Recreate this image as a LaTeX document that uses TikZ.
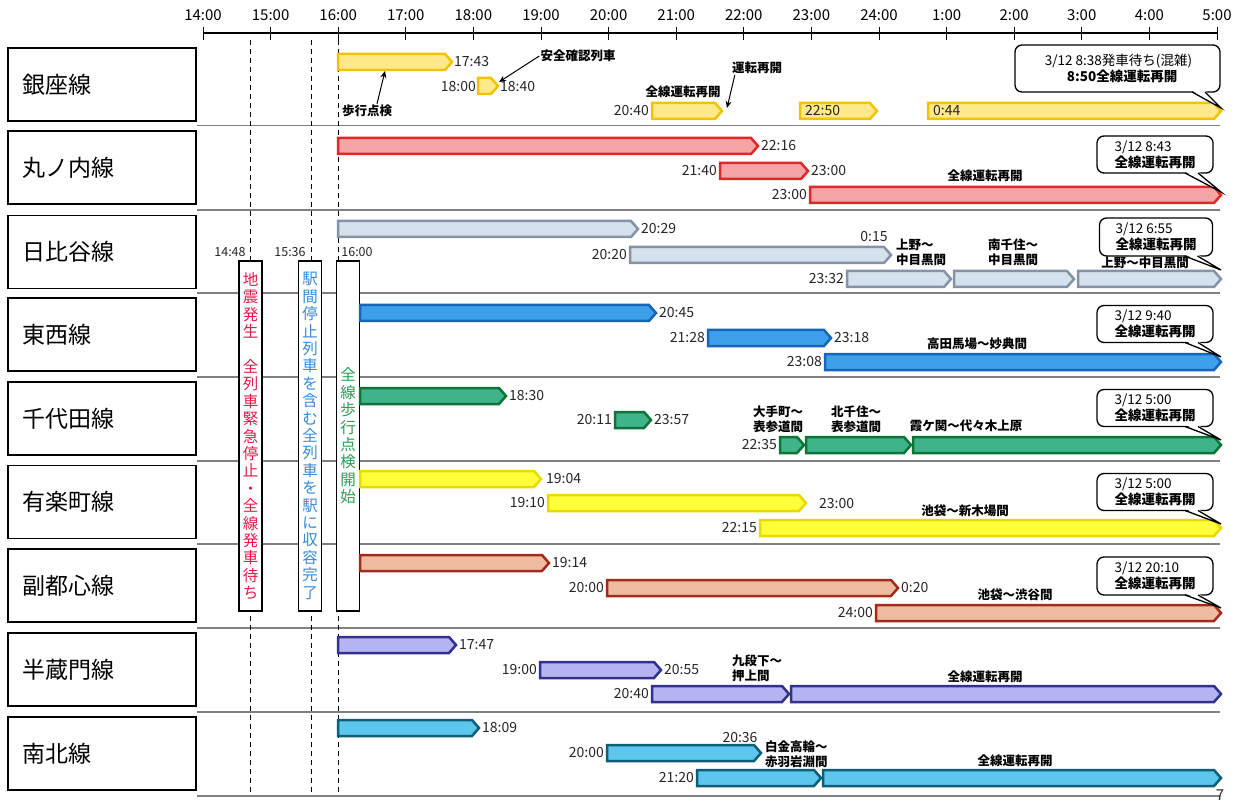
\documentclass[tikz,border=0pt]{standalone}
\usepackage{fontspec}
\setmainfont{Noto Sans CJK JP}
\usetikzlibrary{arrows.meta}
\definecolor{gzF}{HTML}{FFE98A}\definecolor{gzD}{HTML}{F2C300}
\definecolor{mrF}{HTML}{F5A5A5}\definecolor{mrD}{HTML}{E3262A}
\definecolor{hbF}{HTML}{D5E1EC}\definecolor{hbD}{HTML}{8494A6}
\definecolor{tzF}{HTML}{3EA0E8}\definecolor{tzD}{HTML}{1765B8}
\definecolor{cyF}{HTML}{3FB48B}\definecolor{cyD}{HTML}{0E7436}
\definecolor{ycF}{HTML}{FFFF3A}\definecolor{ycD}{HTML}{E8DA00}
\definecolor{fkF}{HTML}{EDBB9E}\definecolor{fkD}{HTML}{A22B1C}
\definecolor{hzF}{HTML}{B4B4F2}\definecolor{hzD}{HTML}{32328C}
\definecolor{nbF}{HTML}{5CC6EC}\definecolor{nbD}{HTML}{0F5E78}
\definecolor{redT}{HTML}{E5194A}\definecolor{bluT}{HTML}{3A8AD8}\definecolor{grnT}{HTML}{2E9B55}
\newcommand\tbar[4]{\draw[barline,#4] (#1,#3-8) -- (#2-7,#3-8) -- (#2,#3) -- (#2-7,#3+8) -- (#1,#3+8) -- cycle;}
\newcommand\callout[8]{%
  \node[cbox, minimum width=#4pt, minimum height=#5pt] (#1) at (#2,#3) {#8};
  \fill[white] (#2+#4/2-28,#3+#5/2-1.6) -- (#6,#7) -- (#2+#4/2-15,#3+#5/2-1.6) -- cycle;
  \draw[line width=1.3pt] (#2+#4/2-28,#3+#5/2) -- (#6,#7) -- (#2+#4/2-15,#3+#5/2);}
\begin{document}
\begin{tikzpicture}[x=1pt,y=-1pt,
  barline/.style={line width=2.5pt, line join=miter},
  ginza/.style={fill=gzF, draw=gzD},
  maru/.style={fill=mrF, draw=mrD},
  hibi/.style={fill=hbF, draw=hbD},
  tozai/.style={fill=tzF, draw=tzD},
  chiyo/.style={fill=cyF, draw=cyD},
  yura/.style={fill=ycF, draw=ycD},
  fuku/.style={fill=fkF, draw=fkD},
  hanzo/.style={fill=hzF, draw=hzD},
  nan/.style={fill=nbF, draw=nbD},
  tl/.style={font=\fontsize{14}{14}\selectfont, inner sep=1pt, text=black!85},
  jl/.style={font=\fontsize{12.5}{15}\selectfont\bfseries, inner sep=1pt, align=center},
  cbox/.style={draw, line width=1.3pt, rounded corners=7pt, fill=white, align=left,
     font=\fontsize{13.5}{16}\selectfont, inner sep=2pt},
  rowbox/.style={draw, line width=1.2pt, minimum height=73pt, text width=160pt, inner xsep=14pt,
     align=left, font=\fontsize{23}{24}\selectfont},
  vbox/.style={draw, line width=1.2pt, fill=white, minimum width=23pt, minimum height=350pt,
     inner sep=0pt, align=center, font=\fontsize{15.5}{17.4}\selectfont},
  sep/.style={line width=1.5pt, black!50},
  vdash/.style={line width=1pt, dash pattern=on 5pt off 4pt},
  ann/.style={-{Stealth[length=7pt,width=6pt]}, line width=1pt}]
\useasboundingbox (0,0) rectangle (1245,802);
\fill[white] (0,0) rectangle (1245,802);
% axis
\draw[line width=1.6pt] (203,33) -- (1217,33);
\foreach \lab [count=\i from 0] in {14:00,15:00,16:00,17:00,18:00,19:00,20:00,21:00,22:00,23:00,24:00,1:00,2:00,3:00,4:00,5:00}{
  \draw[line width=1pt] (203+67.6*\i,27) -- (203+67.6*\i,40);
  \node[font=\fontsize{15}{15}\selectfont, inner sep=0pt] (ax\i) at (203+67.6*\i,15) {\lab};
}
% row boxes
\node[rowbox] (r1) at (102,84.5) {銀座線};
\node[rowbox] (r2) at (102,167.5) {丸ノ内線};
\node[rowbox] (r3) at (102,252) {日比谷線};
\node[rowbox] (r4) at (102,334.5) {東西線};
\node[rowbox] (r5) at (102,418.5) {千代田線};
\node[rowbox] (r6) at (102,502) {有楽町線};
\node[rowbox] (r7) at (102,585.5) {副都心線};
\node[rowbox] (r8) at (102,669.5) {半蔵門線};
\node[rowbox] (r9) at (102,753.5) {南北線};
% separators
\foreach \y in {125.5,210,293,377,461,544,628,712,796}{\draw[sep] (197,\y) -- (1220,\y);}
% dashed time lines
\draw[vdash] (250,40) -- (250,796);
\draw[vdash] (311,40) -- (311,796);
\draw[vdash] (338,40) -- (338,796);
\node[tl, font=\fontsize{12.5}{13}\selectfont] (t1448) at (230,252) {14:48};
\node[tl, font=\fontsize{12.5}{13}\selectfont] (t1536) at (290,252) {15:36};
\node[tl, font=\fontsize{12.5}{13}\selectfont] (t1600) at (357,252) {16:00};
% vertical boxes
\node[vbox, text=redT] (v1) at (250.5,436) {地\\震\\発\\生\\[17.4pt]全\\列\\車\\緊\\急\\停\\止\\・\\全\\線\\発\\車\\待\\ち};
\node[vbox, text=bluT] (v2) at (310,436) {駅\\間\\停\\止\\列\\車\\を\\含\\む\\全\\列\\車\\を\\駅\\に\\収\\容\\完\\了};
\node[vbox, text=grnT] (v3) at (348,436) {全\\線\\歩\\行\\点\\検\\開\\始};
% ===== Ginza =====
\tbar{338}{452}{62}{ginza}
\node[tl,anchor=west] (g1) at (453,62) {17:43};
\tbar{478}{498}{86}{ginza}
\node[tl,anchor=east] (g2a) at (477,87) {18:00};
\node[tl,anchor=west] (g2b) at (499,87) {18:40};
\tbar{652}{722}{111}{ginza}
\node[tl,anchor=east] (g3) at (650,111) {20:40};
\tbar{800}{877}{111}{ginza}
\node[tl,anchor=west] (g4) at (804,111) {22:50};
\tbar{928}{1221}{111}{ginza}
\node[tl,anchor=west] (g5) at (932,111) {0:44};
\node[jl] (gz1) at (683,92) {全線運転再開};
\node[jl] (gz2) at (757,68) {運転再開};
\node[jl] (gz3) at (578,56) {安全確認列車};
\node[jl] (gz4) at (367,111) {歩行点検};
\coordinate (gzt2) at (727,108);
\coordinate (gzt3) at (499,82);
\coordinate (gzt4) at (385,71);
\draw[ann] (gz2.south west) ++(4,0) -- (gzt2);
\draw[ann] (gz3.west) -- (gzt3);
\draw[ann] (gz4.north) ++(10,0) -- (gzt4);
\callout{cg}{1117.5}{68.5}{205}{47}{1221}{108}{\hspace*{2pt}3/12 8:38発車待ち(混雑)\\\hspace*{24pt}\bfseries 8:50全線運転再開}
% ===== Marunouchi =====
\tbar{338}{758}{146}{maru}
\node[tl,anchor=west] (m1) at (760,146) {22:16};
\tbar{720}{808}{171}{maru}
\node[tl,anchor=east] (m2a) at (718,171) {21:40};
\node[tl,anchor=west] (m2b) at (810,171) {23:00};
\tbar{810}{1221}{195}{maru}
\node[tl,anchor=east] (m3) at (808,195) {23:00};
\node[jl] (mj) at (985,176) {全線運転再開};
\callout{cm}{1155}{154.5}{116}{37}{1221}{192}{3/12 8:43\\\bfseries 全線運転再開}
% ===== Hibiya =====
\tbar{338}{638}{229}{hibi}
\node[tl,anchor=west] (h1) at (640,229) {20:29};
\tbar{630}{891}{255}{hibi}
\node[tl,anchor=east] (h2) at (628,255) {20:20};
\node[tl] (h2b) at (874,237) {0:15};
\tbar{847}{951}{279}{hibi}
\tbar{954}{1074}{279}{hibi}
\tbar{1078}{1221}{279}{hibi}
\node[tl,anchor=east] (h3) at (845,279) {23:32};
\node[jl, align=left, anchor=west] (hj1) at (895,252) {上野～\\中目黒間};
\node[jl] (hj2) at (1013,252) {南千住～\\中目黒間};
\node[jl] (hj3) at (1145,263) {上野～中目黒間};
\callout{ch}{1156}{237}{113}{38}{1221}{270}{3/12 6:55\\\bfseries 全線運転再開}
% ===== Tozai =====
\tbar{360}{656}{313}{tozai}
\node[tl,anchor=west] (z1) at (658,313) {20:45};
\tbar{708}{831}{338}{tozai}
\node[tl,anchor=east] (z2a) at (706,338) {21:28};
\node[tl,anchor=west] (z2b) at (833,338) {23:18};
\tbar{825}{1221}{362}{tozai}
\node[tl,anchor=east] (z3) at (823,362) {23:08};
\node[jl] (zj) at (977,344) {高田馬場～妙典間};
\callout{cz}{1155}{324}{116}{37}{1221}{357}{3/12 9:40\\\bfseries 全線運転再開}
% ===== Chiyoda =====
\tbar{360}{506}{396}{chiyo}
\node[tl,anchor=west] (c1) at (508,396) {18:30};
\tbar{615}{651}{420}{chiyo}
\node[tl,anchor=east] (c2a) at (613,420) {20:11};
\node[tl,anchor=west] (c2b) at (653,420) {23:57};
\tbar{780}{804}{445}{chiyo}
\tbar{806}{911}{445}{chiyo}
\tbar{913}{1221}{445}{chiyo}
\node[tl,anchor=east] (c3) at (778,445) {22:35};
\node[jl] (cj1) at (778,419) {大手町～\\表参道間};
\node[jl] (cj2) at (856,419) {北千住～\\表参道間};
\node[jl] (cj3) at (966,426) {霞ケ関～代々木上原};
\callout{cc}{1155}{408}{116}{37}{1221}{440}{3/12 5:00\\\bfseries 全線運転再開}
% ===== Yurakucho =====
\tbar{360}{541}{479}{yura}
\node[tl,anchor=west] (y1) at (545,479) {19:04};
\tbar{548}{806}{503}{yura}
\node[tl,anchor=east] (y2a) at (546,503) {19:10};
\node[tl,anchor=west] (y2b) at (818,504) {23:00};
\tbar{760}{1221}{528}{yura}
\node[tl,anchor=east] (y3) at (758,528) {22:15};
\node[jl] (yj) at (965,511) {池袋～新木場間};
\callout{cy}{1155}{492}{116}{37}{1221}{524}{3/12 5:00\\\bfseries 全線運転再開}
% ===== Fukutoshin =====
\tbar{360}{549}{563}{fuku}
\node[tl,anchor=west] (f1) at (551,563) {19:14};
\tbar{607}{898}{588}{fuku}
\node[tl,anchor=east] (f2a) at (605,588) {20:00};
\node[tl,anchor=west] (f2b) at (900,588) {0:20};
\tbar{876}{1221}{613}{fuku}
\node[tl,anchor=east] (f3) at (874,613) {24:00};
\node[jl] (fj) at (1015,595) {池袋～渋谷間};
\callout{cf}{1155}{576}{116}{38}{1221}{608}{3/12 20:10\\\bfseries 全線運転再開}
% ===== Hanzomon =====
\tbar{338}{456}{645}{hanzo}
\node[tl,anchor=west] (n1) at (458,645) {17:47};
\tbar{540}{661}{670}{hanzo}
\node[tl,anchor=east] (n2a) at (538,670) {19:00};
\node[tl,anchor=west] (n2b) at (663,670) {20:55};
\tbar{652}{789}{694}{hanzo}
\tbar{791}{1221}{694}{hanzo}
\node[tl,anchor=east] (n3) at (650,694) {20:40};
\node[jl, align=left, anchor=west] (nj1) at (731,668) {九段下～\\押上間};
\node[jl] (nj2) at (985,677) {全線運転再開};
% ===== Namboku =====
\tbar{338}{479}{728}{nan}
\node[tl,anchor=west] (s1) at (481,728) {18:09};
\tbar{607}{761}{753}{nan}
\node[tl,anchor=east] (s2a) at (605,753) {20:00};
\node[tl] (s2b) at (740,738) {20:36};
\tbar{697}{821}{778}{nan}
\tbar{823}{1221}{778}{nan}
\node[tl,anchor=east] (s3) at (695,778) {21:20};
\node[jl, align=left, anchor=west] (sj1) at (764,754) {白金高輪～\\赤羽岩淵間};
\node[jl] (sj2) at (1015,761) {全線運転再開};
\node[tl, font=\fontsize{15}{15}\selectfont] (pg) at (1220,795) {7};
\end{tikzpicture}
\end{document}
